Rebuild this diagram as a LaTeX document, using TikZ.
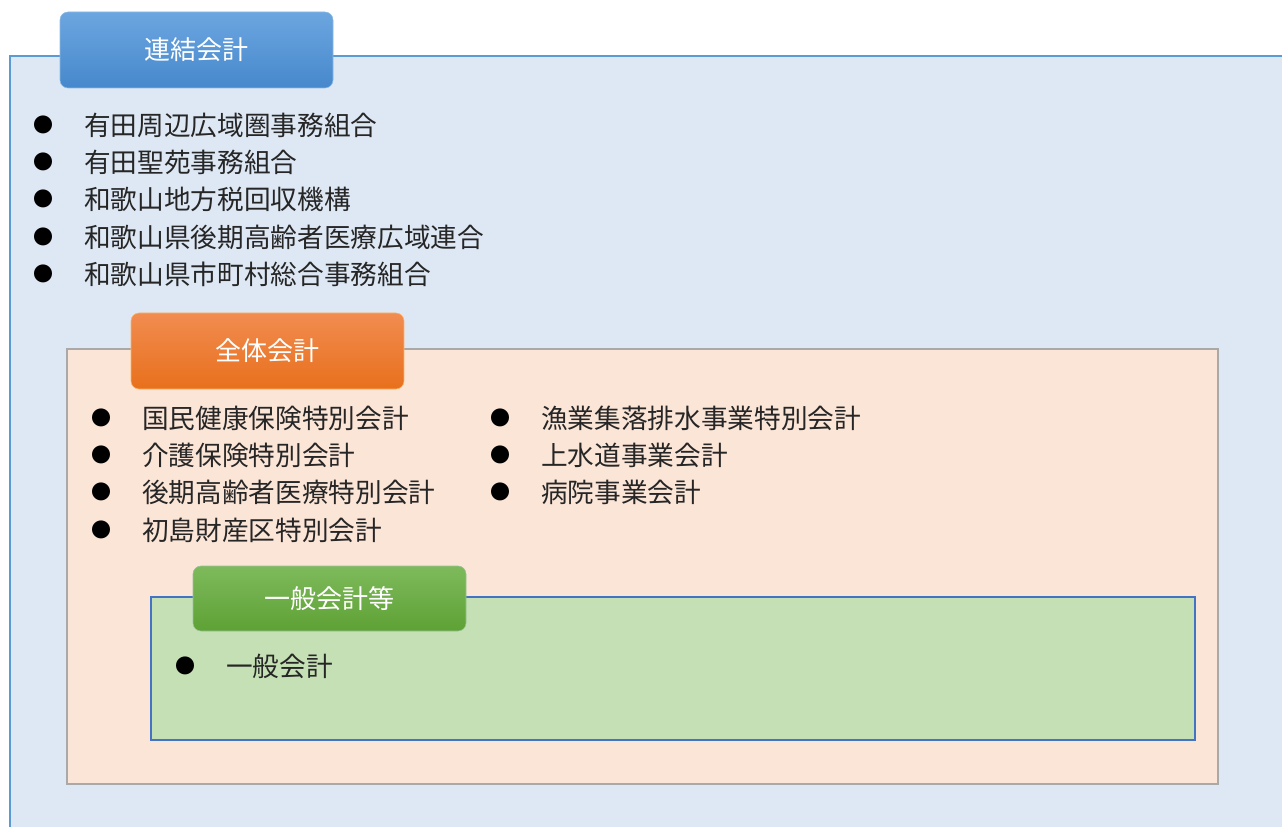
\documentclass[tikz,border=0pt]{standalone}
\usepackage{fontspec}
\setmainfont{Noto Sans CJK JP}
\usetikzlibrary{positioning}
\definecolor{renketsuFill}{HTML}{DEE8F4}
\definecolor{renketsuLine}{HTML}{5B9BD5}
\definecolor{zentaiFill}{HTML}{FBE5D7}
\definecolor{zentaiLine}{HTML}{A9A9A9}
\definecolor{ippanFill}{HTML}{C5E0B4}
\definecolor{ippanLine}{HTML}{4472C4}
\tikzset{tab/.style={rounded corners=6pt, minimum width=204.75pt, minimum height=57pt, inner sep=0pt,
		text=white, font=\fontsize{19.5}{22}\selectfont},
	%list entries and their bullets
	item/.style={anchor=west, inner sep=0pt, text=black!85, font=\fontsize{20}{24}\selectfont},
	dot/.style={inner sep=0pt, text=black, font=\fontsize{15}{18}\selectfont}}

\begin{document}
\begin{tikzpicture}[x=0.75pt, y=-0.75pt]
		\useasboundingbox (0,0) rectangle (1282,827);
		\clip (0,0) rectangle (1282,827);
%		outer frame
		\draw[renketsuLine, fill=renketsuFill, line width=0.9pt] (10,56) rectangle (1300,850);
		\node[tab, draw=renketsuLine!70, top color={rgb,255:red,108;green,166;blue,224}, bottom color={rgb,255:red,70;green,136;blue,204}] (renketsu) at (196.5,50) {連結会計};

		\node[item] (r1) at (84,125) {有田周辺広域圏事務組合};
		\node[item] (r2) at (84,162) {有田聖苑事務組合};
		\node[item] (r3) at (84,199) {和歌山地方税回収機構};
		\node[item] (r4) at (84,237) {和歌山県後期高齢者医療広域連合};
		\node[item] (r5) at (84,274) {和歌山県市町村総合事務組合};
		\node[dot, left=23pt of r1.west] {●};
		\node[dot, left=23pt of r2.west] {●};
		\node[dot, left=23pt of r3.west] {●};
		\node[dot, left=23pt of r4.west] {●};
		\node[dot, left=23pt of r5.west] {●};

%		whole accounts
		\draw[zentaiLine, fill=zentaiFill, line width=0.9pt] (67,349) rectangle (1218,784);
		\node[tab, draw=orange!60, top color={rgb,255:red,241;green,140;blue,80}, bottom color={rgb,255:red,232;green,112;blue,28}] (zentai) at (267.5,351) {全体会計};

		\node[item] (z1) at (142,418) {国民健康保険特別会計};
		\node[item] (z2) at (142,455) {介護保険特別会計};
		\node[item] (z3) at (142,492) {後期高齢者医療特別会計};
		\node[item] (z4) at (142,530) {初島財産区特別会計};
		\node[item] (z5) at (541,418) {漁業集落排水事業特別会計};
		\node[item] (z6) at (541,455) {上水道事業会計};
		\node[item] (z7) at (541,492) {病院事業会計};
		\node[dot, left=23pt of z1.west] {●};
		\node[dot, left=23pt of z2.west] {●};
		\node[dot, left=23pt of z3.west] {●};
		\node[dot, left=23pt of z4.west] {●};
		\node[dot, left=23pt of z5.west] {●};
		\node[dot, left=23pt of z6.west] {●};
		\node[dot, left=23pt of z7.west] {●};

%		general accounts
		\draw[ippanLine, fill=ippanFill, line width=0.9pt] (151,597) rectangle (1195,740);
		\node[tab, minimum height=48.75pt, draw=green!40!black!40, top color={rgb,255:red,126;green,186;blue,92}, bottom color={rgb,255:red,94;green,161;blue,52}] (ippan) at (329.5,598.5) {一般会計等};

		\node[item] (i1) at (226,666) {一般会計};
		\node[dot, left=23pt of i1.west] {●};
	\end{tikzpicture}
\end{document}
